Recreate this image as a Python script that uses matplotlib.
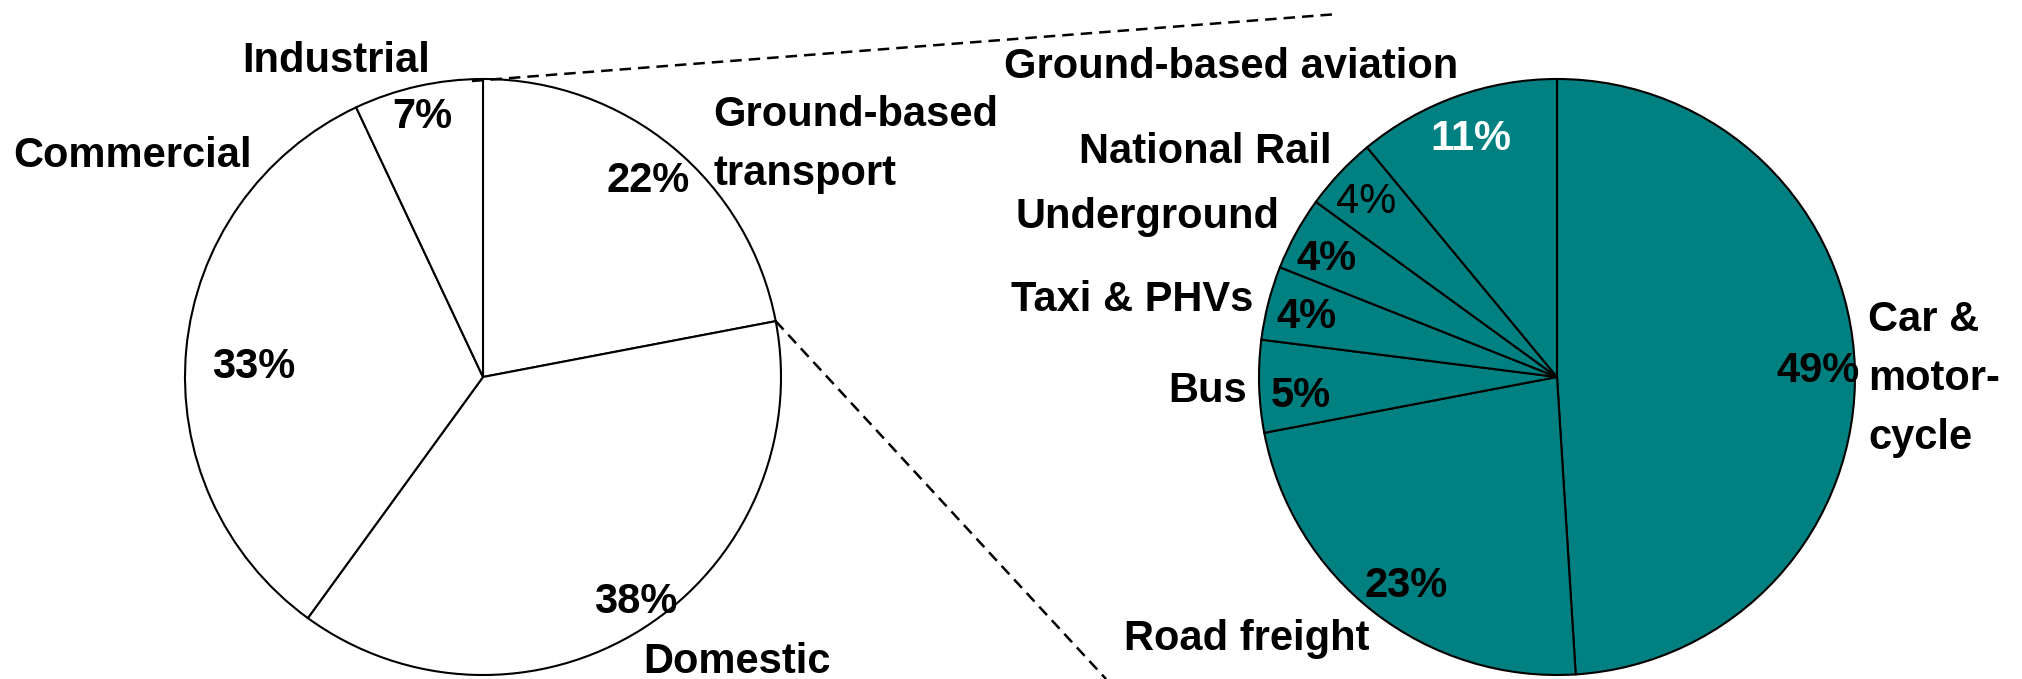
import matplotlib
matplotlib.use("Agg")
import matplotlib.pyplot as plt
import numpy as np

W, H = 2022, 679

# left pie: where emissions come from
sectors = ["Ground-based\ntransport", "Domestic", "Commercial", "Industrial"]
sector_share = [22, 38, 33, 7]

# right pie: breakdown of ground-based transport
modes = ["Car &\nmotor-\ncycle", "Road freight", "Bus", "Taxi & PHVs",
         "Underground", "National Rail", "Ground-based aviation"]
mode_share = [49, 23, 5, 4, 4, 4, 11]

# label placement (pixel coords from top-left) - layout only
sector_label_pos = [(713, 95, "left", "top"), (643, 673, "left", "baseline"),
                    (13, 167, "left", "baseline"), (242, 72, "left", "baseline")]
sector_pct_pos = [(606, 192), (594, 613), (212, 378), (392, 128)]
mode_label_pos = [(1868, 300, "left", "top"), (1370, 650, "right", "baseline"),
                  (1247, 402, "right", "baseline"), (1253, 311, "right", "baseline"),
                  (1280, 228, "right", "baseline"), (1332, 163, "right", "baseline"),
                  (1004, 78, "left", "baseline")]
mode_pct_pos = [(1776, 382), (1365, 597), (1271, 407), (1276, 328),
                (1296, 270), (1336, 213), (1430, 150)]
mode_pct_color = ["black"] * 6 + ["white"]
mode_pct_weight = ["bold"] * 5 + ["normal", "bold"]

FONT = ["Liberation Sans", "DejaVu Sans"]
FS = 30

fig = plt.figure(figsize=(W / 100, H / 100), dpi=100)
ax = fig.add_axes([0, 0, 1, 1])

left_c = (483, H - 377)
right_c = (1557, H - 377)
R = 298

wp = dict(edgecolor="black", linewidth=1.5)
ax.pie(sector_share, startangle=90, counterclock=False, center=left_c, radius=R,
       colors=["white"] * len(sector_share), wedgeprops=wp)
ax.pie(mode_share, startangle=90, counterclock=False, center=right_c, radius=R,
       colors=["#008080"] * len(mode_share), wedgeprops=wp)

for name, v, (x, y, ha, va), (px, py) in zip(sectors, sector_share, sector_label_pos, sector_pct_pos):
    ax.text(x, H - y, name, ha=ha, va=va, fontsize=FS, fontweight="bold",
            family=FONT, linespacing=1.62)
    ax.text(px, H - py, f"{v}%", ha="left", va="baseline", fontsize=FS,
            fontweight="bold", family=FONT)

for name, v, (x, y, ha, va), (px, py), c, w in zip(modes, mode_share, mode_label_pos,
                                                     mode_pct_pos, mode_pct_color, mode_pct_weight):
    ax.text(x, H - y, name, ha=ha, va=va, fontsize=FS, fontweight="bold",
            family=FONT, linespacing=1.62)
    ax.text(px, H - py, f"{v}%", ha="left", va="baseline", fontsize=FS,
            fontweight=w, color=c, family=FONT)

# dashed connectors from the transport wedge edges
a_top = np.deg2rad(90)
a_bot = np.deg2rad(90 - sector_share[0] * 3.6)
p1 = (left_c[0] + R * np.cos(a_top) - 11, left_c[1] + R * np.sin(a_top) - 2)
p2 = (left_c[0] + R * np.cos(a_bot), left_c[1] + R * np.sin(a_bot))
dash = (0, (4.6, 2.8))
ax.plot([p1[0], 1338], [p1[1], H - 14], color="black", lw=1.8, ls=dash)
ax.plot([p2[0], 1106], [p2[1], 0], color="black", lw=1.8, ls=dash)

ax.set_xlim(0, W)
ax.set_ylim(0, H)
ax.set_aspect("equal")
ax.axis("off")

fig.savefig("out.png", dpi=100)
